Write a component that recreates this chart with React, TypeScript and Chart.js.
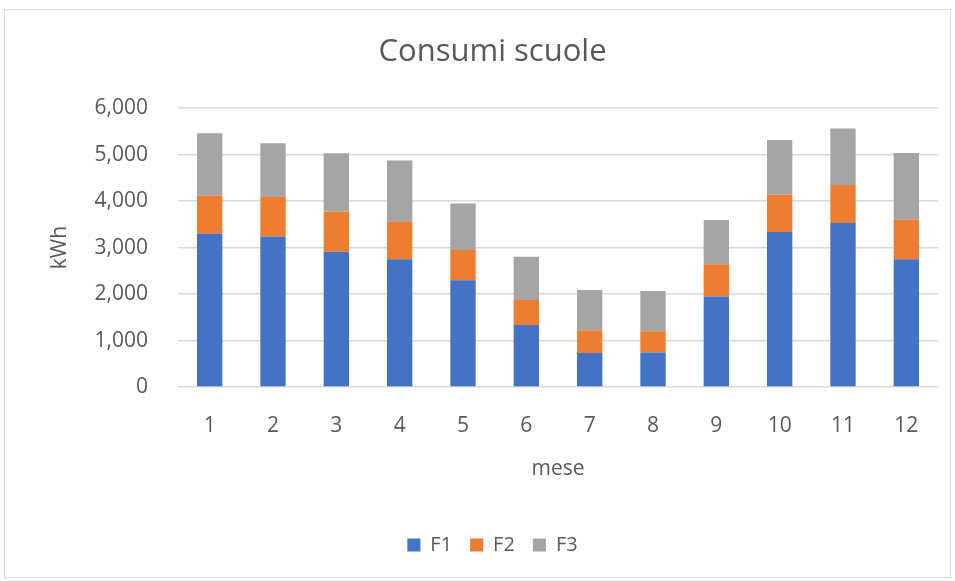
import React, { useEffect, useRef } from "react";
import { Chart, registerables } from "chart.js";
Chart.register(...registerables);

const months = ["1", "2", "3", "4", "5", "6", "7", "8", "9", "10", "11", "12"];
const f1 = [3300, 3240, 2910, 2750, 2300, 1333, 730, 740, 1950, 3335, 3530, 2750];
const f2 = [814, 850, 865, 800, 650, 540, 490, 460, 690, 800, 815, 850];
const f3 = [1347, 1155, 1255, 1325, 1000, 930, 865, 865, 955, 1180, 1220, 1435];

const FONT = "'Open Sans', sans-serif";
const TXT = "#595959";

export default function App() {
  const ref = useRef<HTMLCanvasElement>(null);
  useEffect(() => {
    if (!ref.current) return;
    const chart = new Chart(ref.current, {
      type: "bar",
      data: {
        labels: months,
        datasets: [
          { label: "F1", data: f1, backgroundColor: "#4472C4" },
          { label: "F2", data: f2, backgroundColor: "#ED7D31" },
          { label: "F3", data: f3, backgroundColor: "#A5A5A5" },
        ],
      },
      options: {
        animation: false,
        responsive: false,
        maintainAspectRatio: false,
        layout: { padding: { left: 47, right: 17, top: 0, bottom: 16 } },
        datasets: { bar: { categoryPercentage: 1, barPercentage: 0.4 } },
        plugins: {
          title: {
            display: true,
            text: "Consumi scuole",
            color: TXT,
            font: { family: FONT, size: 31, weight: "normal" },
            padding: { top: 34, bottom: 37 },
          },
          legend: {
            position: "bottom",
            labels: {
              color: TXT,
              font: { family: FONT, size: 20 },
              boxWidth: 13,
              boxHeight: 13,
              padding: 18,
            },
          },
          tooltip: { enabled: false },
        },
        scales: {
          x: {
            stacked: true,
            grid: { display: false, drawTicks: false },
            border: { display: false },
            ticks: { color: TXT, font: { family: FONT, size: 21 }, padding: 26 },
            title: {
              display: true,
              text: "mese",
              color: TXT,
              font: { family: FONT, size: 21 },
              padding: { top: 0, bottom: 35 },
            },
            afterFit: (s: any) => {
              s.height = 130;
            },
          },
          y: {
            stacked: true,
            min: 0,
            max: 6000,
            ticks: {
              stepSize: 1000,
              color: TXT,
              font: { family: FONT, size: 21 },
              padding: 30,
              callback: (v: any) => Number(v).toLocaleString("en-US"),
            },
            grid: { color: "#d9d9d9", lineWidth: 1.5, drawTicks: false },
            border: { display: false },
            title: {
              display: true,
              text: "kWh",
              color: TXT,
              font: { family: FONT, size: 21 },
              padding: { top: 0, bottom: 0 },
            },
            afterFit: (s: any) => {
              s.width = 131;
            },
          },
        },
      },
    });
    return () => chart.destroy();
  }, []);
  return (
    <div style={{ position: "fixed", left: 0, top: 0, width: 955, height: 581, background: "#fff" }}>
      <div
        style={{
          position: "absolute",
          left: 4,
          top: 9,
          width: 945,
          height: 567,
          border: "1px solid #d9d9d9",
        }}
      />
      <canvas ref={ref} width={955} height={581} style={{ position: "absolute", left: 0, top: 0 }} />
    </div>
  );
}
